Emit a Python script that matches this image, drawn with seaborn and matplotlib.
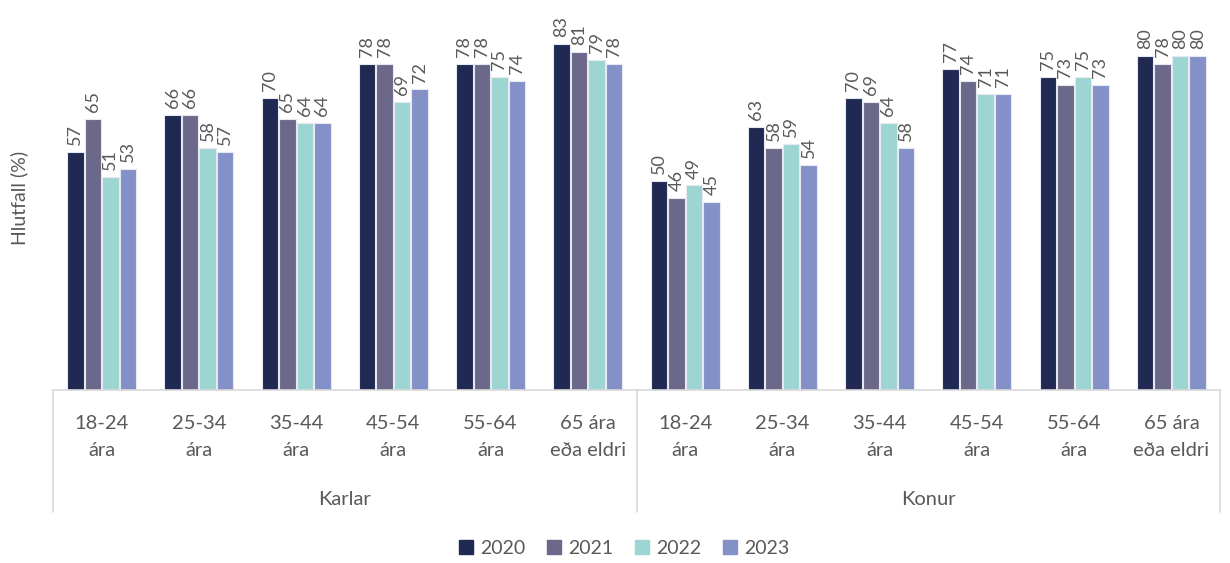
import numpy as np
import pandas as pd
import matplotlib
matplotlib.use("Agg")
import matplotlib.pyplot as plt
import seaborn as sns
from matplotlib.lines import Line2D

groups = ["Karlar", "Konur"]
age_labels = ["18-24\nára", "25-34\nára", "35-44\nára", "45-54\nára", "55-64\nára", "65 ára\neða eldri"]
years = ["2020", "2021", "2022", "2023"]
colors = ["#1f2951", "#6b6889", "#9dd5d2", "#8490c8"]

karlar_2020 = [57, 66, 70, 78, 78, 83]
karlar_2021 = [65, 66, 65, 78, 78, 81]
karlar_2022 = [51, 58, 64, 69, 75, 79]
karlar_2023 = [53, 57, 64, 72, 74, 78]
konur_2020 = [50, 63, 70, 77, 75, 80]
konur_2021 = [46, 58, 69, 74, 73, 78]
konur_2022 = [49, 59, 64, 71, 75, 80]
konur_2023 = [45, 54, 58, 71, 73, 80]

series = {
    ("Karlar", "2020"): karlar_2020, ("Karlar", "2021"): karlar_2021,
    ("Karlar", "2022"): karlar_2022, ("Karlar", "2023"): karlar_2023,
    ("Konur", "2020"): konur_2020, ("Konur", "2021"): konur_2021,
    ("Konur", "2022"): konur_2022, ("Konur", "2023"): konur_2023,
}

rows = []
order = []
for g in groups:
    for i, a in enumerate(age_labels):
        key = f"{g}|{a}"
        order.append(key)
        for y in years:
            rows.append({"cat": key, "year": y, "value": series[(g, y)][i]})
df = pd.DataFrame(rows)

sns.set_theme(style="white")
plt.rcParams["font.family"] = ["Lato", "DejaVu Sans"]
text_color = "#595959"

fig = plt.figure(figsize=(12.3, 5.63), dpi=100)
ax = fig.add_axes([53/1230, 1-390/563, (1220-53)/1230, (390-6)/563])

sns.barplot(data=df, x="cat", y="value", hue="year", order=order, hue_order=years,
            palette=colors, saturation=1, width=0.72, gap=0.06, edgecolor="#e6e8f2",
            linewidth=0.8, ax=ax, legend=False, errorbar=None)

for cont in ax.containers:
    ax.bar_label(cont, labels=[f"{int(v.get_height())}" for v in cont], rotation=90,
                 padding=5, fontsize=13, color=text_color)

ax.set_ylim(0, 92)
ax.set_xlim(-0.5, 11.5)
ax.set_yticks([])
ax.set_xlabel("")
ax.set_ylabel("Hlutfall (%)", fontsize=14, color=text_color, labelpad=18)
for s in ["top", "right", "left"]:
    ax.spines[s].set_visible(False)
ax.spines["bottom"].set_color("#d9d9d9")
ax.spines["bottom"].set_linewidth(1.2)
ax.set_xticks(range(12))
labels = ax.set_xticklabels(age_labels * 2, fontsize=14.5, color=text_color)
for t in labels:
    t.set_linespacing(1.75)
ax.tick_params(axis="x", length=0, pad=18)

trans = ax.get_xaxis_transform()
for xv in [-0.5, 5.5, 11.5]:
    ax.add_line(Line2D([xv, xv], [0, -123/386], transform=trans, color="#d9d9d9",
                       linewidth=1.2, clip_on=False))
for gi, g in enumerate(groups):
    ax.text(2.5 + 6*gi, -110/386, g, transform=trans, ha="center", va="center",
            fontsize=14.5, color=text_color)

handles = [plt.Rectangle((0, 0), 1, 1, color=c) for c in colors]
fig.legend(handles, years, loc="center", bbox_to_anchor=(624/1230, 1-548/563), ncol=4,
           frameon=False, fontsize=14, handlelength=0.75, handleheight=0.75,
           columnspacing=1.1, handletextpad=0.35, labelcolor=text_color)

fig.savefig("out.png", dpi=100)
